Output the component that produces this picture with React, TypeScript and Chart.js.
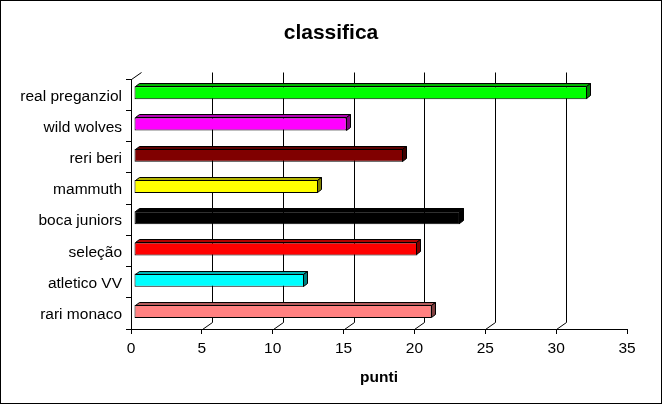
import React, { useEffect, useRef } from "react";
import { Chart, registerables } from "chart.js";

Chart.register(...registerables);

const categories = [
  "real preganziol",
  "wild wolves",
  "reri beri",
  "mammuth",
  "boca juniors",
  "seleção",
  "atletico VV",
  "rari monaco",
];
const points = [32, 15, 19, 13, 23, 20, 12, 21];
const barColors = [
  "#00FF00",
  "#FF00FF",
  "#800000",
  "#FFFF00",
  "#000000",
  "#FF0000",
  "#00FFFF",
  "#FF8080",
];
const axisMin = 0;
const axisMax = 35;
const axisStep = 5;

const FONT = "'Liberation Sans', Arial, sans-serif";
const BAR_SHIFT_X = 3;
const BAR_SHIFT_Y = -2;
const BAR_DX = 4;
const BAR_DY = -3;
const WALL_DX = 10;
const WALL_DY = -7;

function shade(hex: string, f: number): string {
  const n = parseInt(hex.slice(1), 16);
  const r = Math.round(((n >> 16) & 255) * f);
  const g = Math.round(((n >> 8) & 255) * f);
  const b = Math.round((n & 255) * f);
  return `rgb(${r},${g},${b})`;
}

const threeD = {
  id: "threeD",
  beforeDatasetsDraw(chart: any) {
    const ctx = chart.ctx;
    const xs = chart.scales.x;
    const area = chart.chartArea;
    ctx.save();
    ctx.strokeStyle = "#000";
    ctx.lineWidth = 1;
    ctx.beginPath();
    const lx = Math.round(area.left) + 0.5;
    const ty = Math.round(area.top) + 0.5;
    ctx.moveTo(lx, ty);
    ctx.lineTo(lx + WALL_DX, ty + WALL_DY);
    for (let v = axisMin + axisStep; v < axisMax; v += axisStep) {
      const x = Math.round(xs.getPixelForValue(v)) + 0.5;
      const by = Math.round(area.bottom) + 0.5;
      ctx.moveTo(x, by);
      ctx.lineTo(x + WALL_DX, by + WALL_DY);
      ctx.lineTo(x + WALL_DX, ty + WALL_DY);
    }
    ctx.stroke();
    ctx.restore();
    ctx.save();
    ctx.translate(BAR_SHIFT_X, BAR_SHIFT_Y);
  },
  afterDatasetsDraw(chart: any) {
    const ctx = chart.ctx;
    const meta = chart.getDatasetMeta(0);
    meta.data.forEach((bar: any, i: number) => {
      const props = bar.getProps(["x", "y", "base", "height"], true);
      const x0 = Math.round(props.base) + 0.5;
      const x1 = Math.round(props.x) - 0.5;
      const yT = Math.round(props.y - props.height / 2) + 0.5;
      const yB = Math.round(props.y + props.height / 2) - 0.5;
      const c = barColors[i];
      ctx.lineWidth = 1;
      ctx.strokeStyle = "#000";
      ctx.beginPath();
      ctx.moveTo(x0, yT);
      ctx.lineTo(x0 + BAR_DX, yT + BAR_DY);
      ctx.lineTo(x1 + BAR_DX, yT + BAR_DY);
      ctx.lineTo(x1, yT);
      ctx.closePath();
      ctx.fillStyle = shade(c, 0.7);
      ctx.fill();
      ctx.stroke();
      ctx.beginPath();
      ctx.moveTo(x1, yT);
      ctx.lineTo(x1 + BAR_DX, yT + BAR_DY);
      ctx.lineTo(x1 + BAR_DX, yB + BAR_DY);
      ctx.lineTo(x1, yB);
      ctx.closePath();
      ctx.fillStyle = shade(c, 0.5);
      ctx.fill();
      ctx.stroke();
    });
    ctx.restore();
  },
  afterDraw(chart: any) {
    const ctx = chart.ctx;
    ctx.save();
    ctx.strokeStyle = "#000";
    ctx.lineWidth = 1;
    ctx.strokeRect(0.5, 0.5, chart.width - 1, chart.height - 1);
    ctx.restore();
  },
};

export default function App() {
  const ref = useRef<HTMLCanvasElement | null>(null);

  useEffect(() => {
    document.body.style.margin = "0";
    if (!ref.current) return;
    const chart = new Chart(ref.current, {
      type: "bar",
      data: {
        labels: categories,
        datasets: [
          {
            label: "punti",
            data: points,
            backgroundColor: barColors,
            borderColor: "#000",
            borderWidth: 1,
            borderSkipped: false,
            barPercentage: 0.42,
            categoryPercentage: 1,
          },
        ],
      },
      options: {
        indexAxis: "y",
        responsive: false,
        animation: false,
        events: [],
        layout: { padding: 0 },
        plugins: {
          legend: { display: false },
          tooltip: { enabled: false },
          title: {
            display: true,
            text: "classifica",
            color: "#000",
            font: { family: FONT, size: 21, weight: "bold", lineHeight: 1.2 },
            padding: { top: 21, bottom: 33 },
          },
        },
        scales: {
          x: {
            type: "linear",
            min: axisMin,
            max: axisMax,
            ticks: {
              stepSize: axisStep,
              color: "#000",
              font: { family: FONT, size: 15.5 },
              padding: 5,
            },
            grid: {
              drawOnChartArea: false,
              drawTicks: true,
              tickLength: 5,
              color: "#000",
            },
            border: { display: true, color: "#000" },
            title: {
              display: true,
              text: "punti",
              color: "#000",
              font: { family: FONT, size: 15.5, weight: "bold", lineHeight: 1.2 },
              padding: { top: 0, bottom: 17 },
            },
            afterFit(scale: any) {
              scale.height = 75;
            },
          },
          y: {
            type: "category",
            offset: true,
            ticks: {
              color: "#000",
              font: { family: FONT, size: 15.5 },
              padding: 4,
              labelOffset: 1.5,
            },
            grid: {
              offset: true,
              drawOnChartArea: false,
              drawTicks: true,
              tickLength: 5,
              color: "#000",
            },
            border: { display: true, color: "#000" },
            afterFit(scale: any) {
              scale.width = 131;
            },
          },
          yRight: {
            type: "linear",
            position: "right",
            display: true,
            ticks: { display: false },
            grid: { display: false, drawTicks: false },
            border: { display: false },
            afterFit(scale: any) {
              scale.width = 35;
            },
          },
        },
      },
      plugins: [threeD],
    } as any);
    return () => chart.destroy();
  }, []);

  return (
    <canvas
      ref={ref}
      width={662}
      height={404}
      style={{ display: "block", background: "#fff" }}
    />
  );
}
